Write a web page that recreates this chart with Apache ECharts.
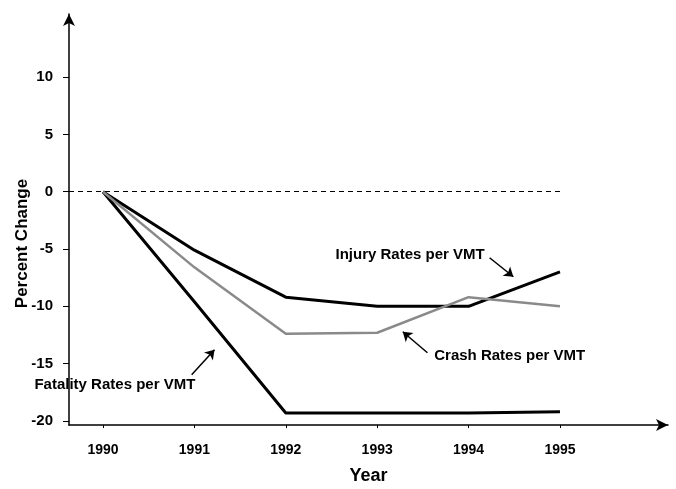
<!DOCTYPE html>
<html>
<head>
<meta charset="utf-8">
<script src="https://cdn.jsdelivr.net/npm/echarts@6/dist/echarts.min.js"></script>
<style>
html, body { margin: 0; background: #fff; }
#chart { width: 676px; height: 489px; }
</style>
</head>
<body>
<div id="chart"></div>
<script>
// data
const years = [1990, 1991, 1992, 1993, 1994, 1995];
const injury = [0, -5.1, -9.2, -10.0, -10.0, -7.0];
const crash = [0, -6.6, -12.4, -12.3, -9.2, -10.0];
const fatality = [0, -9.6, -19.3, -19.3, -19.3, -19.2];
const yTicks = [-20, -15, -10, -5, 0, 5, 10];

const font = "'Liberation Sans', Arial, sans-serif";
const xMin = 1989.628, xMax = 1996.182;

// annotation text and arrows, in data coordinates
const notes = {
  injury: { text: 'Injury Rates per VMT', at: [1993.36, -5.5], arrow: [[1994.23, -5.76], [1994.49, -7.42]] },
  crash: { text: 'Crash Rates per VMT', at: [1994.45, -14.31], arrow: [[1993.55, -14.05], [1993.28, -12.22]] },
  fatality: { text: 'Fatality Rates per VMT', at: [1990.13, -16.84], arrow: [[1990.97, -15.97], [1991.22, -13.79]] }
};

const pair = (a, b) => a.map((v, i) => [v, b[i]]);

function noteMarks(n) {
  return {
    markPoint: {
      symbolSize: 0,
      data: [{
        coord: n.at,
        label: { show: true, position: 'inside', formatter: n.text, color: '#000',
                 fontFamily: font, fontWeight: 'bold', fontSize: 15 }
      }]
    },
    markLine: {
      silent: true,
      symbol: ['none', 'arrow'],
      symbolSize: 9,
      label: { show: false },
      lineStyle: { color: '#000', width: 1.5, type: 'solid' },
      data: [[{ coord: n.arrow[0] }, { coord: n.arrow[1] }]]
    }
  };
}

const chart = echarts.init(document.getElementById('chart'));
chart.setOption({
  animation: false,
  grid: { left: 69, right: 8, top: 14, bottom: 64, outerBoundsMode: 'none', containLabel: false },
  xAxis: {
    type: 'value',
    min: xMin,
    max: xMax,
    name: 'Year',
    nameLocation: 'middle',
    nameGap: 42,
    nameMoveOverlap: false,
    nameTextStyle: { fontFamily: font, fontWeight: 'bold', fontSize: 18, color: '#000' },
    axisLine: { onZero: false, lineStyle: { color: '#000', width: 1.5 }, symbol: ['none', 'arrow'], symbolSize: [9, 12] },
    axisTick: { show: true, length: 3, customValues: years, lineStyle: { color: '#000' } },
    axisLabel: { customValues: years, formatter: v => String(Math.round(v)), margin: 18,
                 fontFamily: font, fontWeight: 'bold', fontSize: 14, color: '#000' },
    splitLine: { show: false }
  },
  yAxis: {
    type: 'value',
    min: -20.35,
    max: 15.5,
    name: 'Percent Change',
    nameLocation: 'middle',
    nameGap: 38,
    nameRotate: 90,
    nameMoveOverlap: false,
    nameTextStyle: { fontFamily: font, fontWeight: 'bold', fontSize: 17, color: '#000', padding: [0, 48, 0, 0] },
    axisLine: { onZero: false, lineStyle: { color: '#000', width: 1.5 }, symbol: ['none', 'arrow'], symbolSize: [9, 12] },
    axisTick: { show: true, length: 6, customValues: yTicks, lineStyle: { color: '#000' } },
    axisLabel: { customValues: yTicks, margin: 16, fontFamily: font, fontWeight: 'bold', fontSize: 15, color: '#000' },
    splitLine: { show: false }
  },
  series: [
    Object.assign({
      name: 'Fatality Rates per VMT',
      type: 'line',
      data: pair(years, fatality),
      symbol: 'none',
      lineStyle: { color: '#000', width: 3 }
    }, noteMarks(notes.fatality)),
    Object.assign({
      name: 'Injury Rates per VMT',
      type: 'line',
      data: pair(years, injury),
      symbol: 'none',
      lineStyle: { color: '#000', width: 3 }
    }, noteMarks(notes.injury)),
    Object.assign({
      name: 'Crash Rates per VMT',
      type: 'line',
      data: pair(years, crash),
      symbol: 'none',
      lineStyle: { color: '#8a8a8a', width: 2.5 }
    }, noteMarks(notes.crash)),
    {
      name: 'zero',
      type: 'line',
      data: [],
      markLine: {
        silent: true,
        symbol: 'none',
        label: { show: false },
        lineStyle: { color: '#000', width: 1, type: [5, 4] },
        data: [[{ coord: [xMin, 0] }, { coord: [1995, 0] }]]
      }
    }
  ]
});
</script>
</body>
</html>
